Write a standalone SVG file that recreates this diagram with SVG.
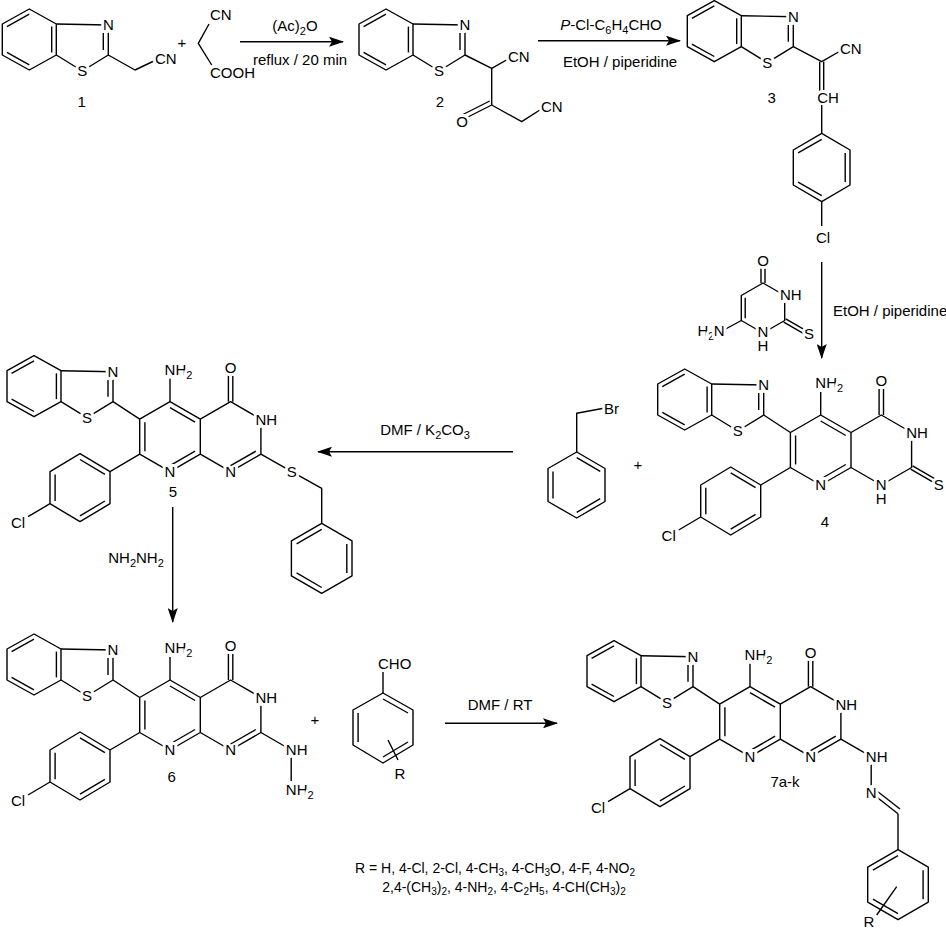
<svg xmlns="http://www.w3.org/2000/svg" xmlns:xlink="http://www.w3.org/1999/xlink" width="946" height="933" viewBox="0 0 946 933">
<style>
line,polyline,polygon,path.b{stroke:#000;stroke-width:1.4;fill:none;stroke-linejoin:round}
text{font-family:"Liberation Sans",Arial,sans-serif;font-size:15px;fill:#000}
.a{stroke:#fff;stroke-width:6;paint-order:stroke;text-anchor:middle}
.s{text-anchor:start}
.m{text-anchor:middle}
.sm{font-size:14px}
</style>
<defs>
<marker id="ah" markerWidth="16" markerHeight="10" refX="14" refY="5" orient="auto" markerUnits="userSpaceOnUse">
<path d="M0,0 L15,5 L0,10 L3,5 z" fill="#000"/>
</marker>
<g id="btz">
<polygon points="-79,-46 -52,-31 -52,0 -79,15 -106,0 -106,-31"/>
<line x1="-101.4" y1="-28.4" x2="-79" y2="-40.8"/>
<line x1="-56.6" y1="-28.4" x2="-56.6" y2="-2.6"/>
<line x1="-101.4" y1="-2.6" x2="-79" y2="9.8"/>
<polyline points="-52,-31 0,-30 0,0 -26,16 -52,0"/>
<line x1="-5" y1="-5" x2="-5" y2="-25"/>
<text class="a" x="0" y="-24.6">N</text>
<text class="a" x="-26" y="21.4">S</text>
</g>
<g id="core">
<polygon points="0,-35 30.3,-17.5 30.3,17.5 0,35 -30.3,17.5 -30.3,-17.5"/>
<line x1="0" y1="-29" x2="25.1" y2="-14.5"/>
<line x1="-25.1" y1="-14.5" x2="-25.1" y2="14.5"/>
<line x1="25.1" y1="14.5" x2="0" y2="29"/>
<polyline points="30.3,-17.5 60.6,-35 90.9,-17.5 90.9,17.5 60.6,35 30.3,17.5"/>
<line x1="58.4" y1="-35" x2="58.4" y2="-61"/>
<line x1="62.8" y1="-35" x2="62.8" y2="-61"/>
<line x1="0" y1="-35" x2="0" y2="-58"/>
<line x1="-30.3" y1="-17.5" x2="-57" y2="-35"/>
<use xlink:href="#btz" x="-57" y="-35"/>
<line x1="-30.3" y1="17.5" x2="-60" y2="35"/>
<polygon points="-60,35 -60,67 -90,85 -120,67 -120,35 -90,17"/>
<line x1="-114.9" y1="37.7" x2="-114.9" y2="64.3"/>
<line x1="-65.1" y1="64.3" x2="-90" y2="79.2"/>
<line x1="-90" y1="22.8" x2="-65.1" y2="37.7"/>
<line x1="-120" y1="67" x2="-142" y2="80"/>
<text class="a" x="-152" y="91">Cl</text>
<text class="a" x="60.6" y="-64">O</text>
<text class="a s" x="-5.4" y="-61.6">NH<tspan dy="4" font-size="11">2</tspan></text>
<text class="a s" x="85.5" y="-12.1">NH</text>
<text class="a" x="0" y="40.4">N</text>
<text class="a" x="60.6" y="40.4">N</text>
</g>
</defs>

<g id="connectors">
<line x1="240" y1="41.7" x2="343" y2="41.7" marker-end="url(#ah)"/>
<line x1="538" y1="40.7" x2="680" y2="40.7" marker-end="url(#ah)"/>
<line x1="821.7" y1="262" x2="821.7" y2="358" marker-end="url(#ah)"/>
<line x1="513" y1="451.7" x2="318" y2="451.7" marker-end="url(#ah)"/>
<line x1="172.7" y1="507" x2="172.7" y2="622" marker-end="url(#ah)"/>
<line x1="445" y1="723.3" x2="557" y2="723.3" marker-end="url(#ah)"/>
<text class="m" x="295" y="31">(Ac)<tspan dy="4" font-size="11">2</tspan><tspan dy="-4">O</tspan></text>
<text class="m" x="300" y="65">reflux / 20 min</text>
<text class="m" x="611" y="30"><tspan font-style="italic">P</tspan>-Cl-C<tspan dy="4" font-size="11">6</tspan><tspan dy="-4">H</tspan><tspan dy="4" font-size="11">4</tspan><tspan dy="-4">CHO</tspan></text>
<text class="m" x="620" y="67">EtOH / piperidine</text>
<text class="s" x="833" y="316">EtOH / piperidine</text>
<text class="m" x="425" y="435">DMF / K<tspan dy="4" font-size="11">2</tspan><tspan dy="-4">CO</tspan><tspan dy="4" font-size="11">3</tspan></text>
<text class="m" x="136" y="563">NH<tspan dy="4" font-size="11">2</tspan><tspan dy="-4">NH</tspan><tspan dy="4" font-size="11">2</tspan></text>
<text class="m" x="500" y="710">DMF / RT</text>
<text class="m" x="182" y="48">+</text>
<text class="m" x="638" y="470">+</text>
<text class="m" x="315" y="725">+</text>
</g>

<g id="c1">
<use xlink:href="#btz" x="108.3" y="55"/>
<polyline points="108.3,55 135,70 156,60"/>
<text class="a s" x="155" y="64">CN</text>
<text class="m" x="81.7" y="107">1</text>
</g>

<g id="cyanoacetic">
<polyline points="209,24 198.3,43.3 211.7,65"/>
<text class="a s" x="210" y="20">CN</text>
<text class="a s" x="210" y="78">COOH</text>
</g>

<g id="c2">
<use xlink:href="#btz" x="465" y="55"/>
<polyline points="465,55 491.7,68.3 510,58"/>
<text class="a s" x="508" y="62">CN</text>
<line x1="491.7" y1="68.3" x2="491.7" y2="105"/>
<line x1="491.7" y1="105" x2="462" y2="120"/>
<line x1="489.7" y1="101" x2="460" y2="116"/>
<text class="a" x="462" y="127">O</text>
<polyline points="491.7,105 521.7,121.7 543,108"/>
<text class="a s" x="541" y="112">CN</text>
<text class="m" x="440" y="107">2</text>
</g>

<g id="c3">
<use xlink:href="#btz" x="793.3" y="46.7"/>
<polyline points="793.3,46.7 821.7,61.7 842,50"/>
<text class="a s" x="840" y="54">CN</text>
<line x1="819.7" y1="61.7" x2="819.7" y2="92"/>
<line x1="823.7" y1="61.7" x2="823.7" y2="92"/>
<text class="a" x="828" y="103">CH</text>
<line x1="821.7" y1="105" x2="821.7" y2="133.3"/>
<polygon points="821.7,133.3 850,150 850,185 821.7,201.7 793.3,185 793.3,150"/>
<line x1="798.1" y1="152.9" x2="821.7" y2="139.3"/>
<line x1="845.2" y1="152.9" x2="845.2" y2="182.1"/>
<line x1="798.1" y1="182.1" x2="821.7" y2="195.7"/>
<line x1="821.7" y1="201.7" x2="821.7" y2="226"/>
<text class="a" x="823" y="243">Cl</text>
<text class="m" x="771.7" y="103">3</text>
</g>

<g id="aminothiouracil">
<polygon points="763,283 784.7,295.5 784.7,320.5 763,333 741.3,320.5 741.3,295.5"/>
<line x1="745.2" y1="297.8" x2="745.2" y2="318.2"/>
<line x1="761" y1="283" x2="761" y2="263"/>
<line x1="765" y1="283" x2="765" y2="263"/>
<line x1="783.7" y1="322.2" x2="803.7" y2="333.7"/>
<line x1="785.7" y1="318.8" x2="805.7" y2="330.3"/>
<line x1="741.3" y1="320.5" x2="722" y2="331"/>
<text class="a" x="763" y="266" font-size="14">O</text>
<text class="a s" x="780" y="300" font-size="14">NH</text>
<text class="a" x="763" y="337" font-size="14">N</text>
<text class="a" x="763" y="351" font-size="13" style="stroke-width:2">H</text>
<text class="a" x="809" y="339" font-size="14">S</text>
<text class="a" x="711" y="336" font-size="14">H<tspan dy="4" font-size="10">2</tspan><tspan dy="-4">N</tspan></text>
</g>

<g id="c4">
<use xlink:href="#core" x="820.7" y="450"/>
<g transform="translate(820.7,450)">
<line x1="89.9" y1="19.2" x2="113.2" y2="32.7"/>
<line x1="91.9" y1="15.8" x2="115.2" y2="29.3"/>
<text class="a" x="118" y="40.4">S</text>
<text class="a" x="60.6" y="54">H</text>
<text class="m" x="4.3" y="77">4</text>
</g>
</g>

<g id="benzylbromide">
<polyline points="576.7,452 576.7,413.3 605,408"/>
<text class="a s" x="604" y="414">Br</text>
<polygon points="576.7,452 605,468.5 605,501.5 576.7,518 548,501.5 548,468.5"/>
<line x1="553" y1="471.4" x2="553" y2="498.6"/>
<line x1="576.7" y1="457.6" x2="600.2" y2="471.3"/>
<line x1="600.2" y1="498.7" x2="576.7" y2="512.4"/>
</g>

<g id="c5">
<use xlink:href="#core" x="170" y="436.7"/>
<g transform="translate(170,436.7)">
<line x1="85.8" y1="14.5" x2="60.6" y2="29"/>
<polyline points="90.9,17.5 121.7,35 151.7,51.7 151.7,86.7"/>
<text class="a" x="121.7" y="40.4">S</text>
<polygon points="151.7,86.7 182,104.2 182,139.2 151.7,156.7 121.4,139.2 121.4,104.2"/>
<line x1="126.6" y1="107.2" x2="151.7" y2="92.6"/>
<line x1="176.8" y1="107.2" x2="176.8" y2="136.2"/>
<line x1="126.6" y1="136.2" x2="151.7" y2="150.8"/>
<text class="m" x="3" y="60">5</text>
</g>
</g>

<g id="c6">
<use xlink:href="#core" x="170" y="715"/>
<g transform="translate(170,715)">
<line x1="85.8" y1="14.5" x2="60.6" y2="29"/>
<line x1="90.9" y1="17.5" x2="121.2" y2="35"/>
<line x1="121.2" y1="40" x2="121.2" y2="66"/>
<text class="a s" x="115.8" y="40.4">NH</text>
<text class="a s" x="115.8" y="80">NH<tspan dy="4" font-size="11">2</tspan></text>
<text class="m" x="1.7" y="67">6</text>
</g>
</g>

<g id="aldehyde">
<line x1="383" y1="693" x2="383" y2="672"/>
<text class="a s" x="378" y="669">CHO</text>
<polygon points="383,693 413,710 413,745 383,763 353,745 353,710"/>
<line x1="358.1" y1="713" x2="358.1" y2="742"/>
<line x1="383" y1="699" x2="408" y2="713"/>
<line x1="408" y1="742" x2="383" y2="757"/>
<line x1="388" y1="740" x2="398" y2="760"/>
<text class="a" x="400" y="779">R</text>
</g>

<g id="c7">
<use xlink:href="#core" x="750" y="721.7"/>
<g transform="translate(750,721.7)">
<line x1="85.8" y1="14.5" x2="60.6" y2="29"/>
<line x1="90.9" y1="17.5" x2="121.2" y2="35"/>
<line x1="121.2" y1="42" x2="121.2" y2="64"/>
<line x1="121.2" y1="71" x2="148" y2="92"/>
<line x1="126" y1="68.5" x2="150" y2="87.3"/>
<line x1="148" y1="92" x2="148" y2="128"/>
<text class="a s" x="115.8" y="40.4">NH</text>
<text class="a" x="121.2" y="76.4">N</text>
<polygon points="148,128 178.3,145.5 178.3,180.5 148,198 117.7,180.5 117.7,145.5"/>
<line x1="122.9" y1="148.5" x2="148" y2="134"/>
<line x1="173.1" y1="148.5" x2="173.1" y2="177.5"/>
<line x1="148" y1="192" x2="122.9" y2="177.5"/>
<line x1="146.7" y1="165" x2="126.7" y2="193.3"/>
<text class="a" x="119" y="205">R</text>
<text class="m" x="35" y="65">7a-k</text>
</g>
</g>

<g id="rdef">
<text class="m sm" x="495" y="873">R = H, 4-Cl, 2-Cl, 4-CH<tspan dy="3" font-size="10">3</tspan><tspan dy="-3">, 4-CH</tspan><tspan dy="3" font-size="10">3</tspan><tspan dy="-3">O, 4-F, 4-NO</tspan><tspan dy="3" font-size="10">2</tspan></text>
<text class="m sm" x="504" y="892">2,4-(CH<tspan dy="3" font-size="10">3</tspan><tspan dy="-3">)</tspan><tspan dy="3" font-size="10">2</tspan><tspan dy="-3">, 4-NH</tspan><tspan dy="3" font-size="10">2</tspan><tspan dy="-3">, 4-C</tspan><tspan dy="3" font-size="10">2</tspan><tspan dy="-3">H</tspan><tspan dy="3" font-size="10">5</tspan><tspan dy="-3">, 4-CH(CH</tspan><tspan dy="3" font-size="10">3</tspan><tspan dy="-3">)</tspan><tspan dy="3" font-size="10">2</tspan></text>
</g>
</svg>
